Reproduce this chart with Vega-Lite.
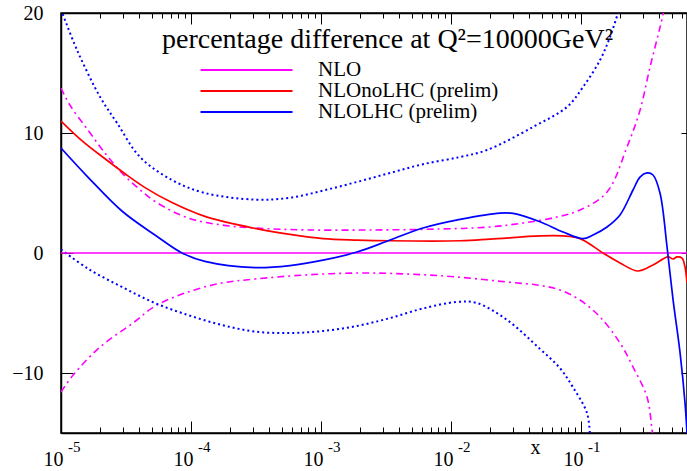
{
  "$schema": "https://vega.github.io/schema/vega-lite/v6.json",
  "width": 626,
  "height": 420,
  "autosize": "none",
  "padding": {"left": 61, "top": 13, "right": 0, "bottom": 38},
  "background": "white",
  "config": {
    "view": {"stroke": "black", "strokeWidth": 1.5},
    "font": "Liberation Serif",
    "axis": {"domainColor": "black", "domainWidth": 1.5, "tickColor": "black", "labelColor": "black", "grid": false, "labelFont": "Liberation Serif", "labelFontSize": 20, "titleFont": "Liberation Serif", "titleColor": "black"},
    "legend": {"labelFont": "Liberation Serif"}
  },
  "datasets": {
    "central": [
      {"series": "NLO", "x": 0.00001, "y": 0},
      {"series": "NLO", "x": 0.6535, "y": 0},
      {"series": "NLOnoLHC (prelim)", "x": 0.00001, "y": 11.0},
      {"series": "NLOnoLHC (prelim)", "x": 0.0000147, "y": 9.3},
      {"series": "NLOnoLHC (prelim)", "x": 0.0000218, "y": 7.85},
      {"series": "NLOnoLHC (prelim)", "x": 0.0000311, "y": 6.6},
      {"series": "NLOnoLHC (prelim)", "x": 0.0000443, "y": 5.45},
      {"series": "NLOnoLHC (prelim)", "x": 0.0000714, "y": 4.2},
      {"series": "NLOnoLHC (prelim)", "x": 0.000128, "y": 3.05},
      {"series": "NLOnoLHC (prelim)", "x": 0.000311, "y": 2.05},
      {"series": "NLOnoLHC (prelim)", "x": 0.000577, "y": 1.55},
      {"series": "NLOnoLHC (prelim)", "x": 0.001036, "y": 1.2},
      {"series": "NLOnoLHC (prelim)", "x": 0.00189, "y": 1.08},
      {"series": "NLOnoLHC (prelim)", "x": 0.0034, "y": 1.02},
      {"series": "NLOnoLHC (prelim)", "x": 0.01173, "y": 1.02},
      {"series": "NLOnoLHC (prelim)", "x": 0.01995, "y": 1.15},
      {"series": "NLOnoLHC (prelim)", "x": 0.0484, "y": 1.42},
      {"series": "NLOnoLHC (prelim)", "x": 0.0727, "y": 1.42},
      {"series": "NLOnoLHC (prelim)", "x": 0.0982, "y": 1.2},
      {"series": "NLOnoLHC (prelim)", "x": 0.1476, "y": 0.0},
      {"series": "NLOnoLHC (prelim)", "x": 0.1995, "y": -0.83},
      {"series": "NLOnoLHC (prelim)", "x": 0.2745, "y": -1.5},
      {"series": "NLOnoLHC (prelim)", "x": 0.358, "y": -1.0},
      {"series": "NLOnoLHC (prelim)", "x": 0.467, "y": -0.33},
      {"series": "NLOnoLHC (prelim)", "x": 0.511, "y": -0.5},
      {"series": "NLOnoLHC (prelim)", "x": 0.547, "y": -0.33},
      {"series": "NLOnoLHC (prelim)", "x": 0.598, "y": -0.42},
      {"series": "NLOnoLHC (prelim)", "x": 0.631, "y": -1.17},
      {"series": "NLOnoLHC (prelim)", "x": 0.6535, "y": -2.5},
      {"series": "NLOLHC (prelim)", "x": 0.00001, "y": 8.75},
      {"series": "NLOLHC (prelim)", "x": 0.0000161, "y": 6.33},
      {"series": "NLOLHC (prelim)", "x": 0.0000294, "y": 3.5},
      {"series": "NLOLHC (prelim)", "x": 0.0000528, "y": 1.5},
      {"series": "NLOLHC (prelim)", "x": 0.0000853, "y": 0.0},
      {"series": "NLOLHC (prelim)", "x": 0.000128, "y": -0.7},
      {"series": "NLOLHC (prelim)", "x": 0.000311, "y": -1.22},
      {"series": "NLOLHC (prelim)", "x": 0.000577, "y": -1.05},
      {"series": "NLOLHC (prelim)", "x": 0.001036, "y": -0.6},
      {"series": "NLOLHC (prelim)", "x": 0.00189, "y": 0.08},
      {"series": "NLOLHC (prelim)", "x": 0.0034, "y": 1.08},
      {"series": "NLOLHC (prelim)", "x": 0.00609, "y": 2.08},
      {"series": "NLOLHC (prelim)", "x": 0.01173, "y": 2.8},
      {"series": "NLOLHC (prelim)", "x": 0.0238, "y": 3.33},
      {"series": "NLOLHC (prelim)", "x": 0.03, "y": 3.3},
      {"series": "NLOLHC (prelim)", "x": 0.0484, "y": 2.6},
      {"series": "NLOLHC (prelim)", "x": 0.0727, "y": 1.75},
      {"series": "NLOLHC (prelim)", "x": 0.1036, "y": 1.2},
      {"series": "NLOLHC (prelim)", "x": 0.1237, "y": 1.5},
      {"series": "NLOLHC (prelim)", "x": 0.1585, "y": 2.17},
      {"series": "NLOLHC (prelim)", "x": 0.1995, "y": 3.17},
      {"series": "NLOLHC (prelim)", "x": 0.2512, "y": 5.25},
      {"series": "NLOLHC (prelim)", "x": 0.2843, "y": 6.33},
      {"series": "NLOLHC (prelim)", "x": 0.3218, "y": 6.67},
      {"series": "NLOLHC (prelim)", "x": 0.358, "y": 6.5},
      {"series": "NLOLHC (prelim)", "x": 0.405, "y": 5.0},
      {"series": "NLOLHC (prelim)", "x": 0.459, "y": 0.5},
      {"series": "NLOLHC (prelim)", "x": 0.511, "y": -3.92},
      {"series": "NLOLHC (prelim)", "x": 0.578, "y": -8.33},
      {"series": "NLOLHC (prelim)", "x": 0.631, "y": -12.5},
      {"series": "NLOLHC (prelim)", "x": 0.6535, "y": -15}
    ],
    "bands": [
      {"band": "NLO upper", "x": 0.00001, "y": 13.75},
      {"band": "NLO upper", "x": 0.0000117, "y": 12.33},
      {"band": "NLO upper", "x": 0.0000161, "y": 10.25},
      {"band": "NLO upper", "x": 0.0000218, "y": 8.33},
      {"band": "NLO upper", "x": 0.0000294, "y": 6.67},
      {"band": "NLO upper", "x": 0.0000391, "y": 5.42},
      {"band": "NLO upper", "x": 0.0000528, "y": 4.3},
      {"band": "NLO upper", "x": 0.0000948, "y": 2.92},
      {"band": "NLO upper", "x": 0.000173, "y": 2.33},
      {"band": "NLO upper", "x": 0.000311, "y": 2.08},
      {"band": "NLO upper", "x": 0.00078, "y": 1.92},
      {"band": "NLO upper", "x": 0.00251, "y": 1.92},
      {"band": "NLO upper", "x": 0.00823, "y": 2.0},
      {"band": "NLO upper", "x": 0.01995, "y": 2.17},
      {"band": "NLO upper", "x": 0.0358, "y": 2.5},
      {"band": "NLO upper", "x": 0.0654, "y": 3.0},
      {"band": "NLO upper", "x": 0.0982, "y": 3.58},
      {"band": "NLO upper", "x": 0.1585, "y": 5.08},
      {"band": "NLO upper", "x": 0.2258, "y": 8.83},
      {"band": "NLO upper", "x": 0.2843, "y": 11.9},
      {"band": "NLO upper", "x": 0.3396, "y": 15.5},
      {"band": "NLO upper", "x": 0.405, "y": 18.8},
      {"band": "NLO upper", "x": 0.4506, "y": 21},
      {"band": "NLO lower", "x": 0.00001, "y": -11.58},
      {"band": "NLO lower", "x": 0.0000124, "y": -10.17},
      {"band": "NLO lower", "x": 0.00002, "y": -7.83},
      {"band": "NLO lower", "x": 0.0000358, "y": -5.83},
      {"band": "NLO lower", "x": 0.0000528, "y": -4.43},
      {"band": "NLO lower", "x": 0.0000948, "y": -3.25},
      {"band": "NLO lower", "x": 0.000173, "y": -2.5},
      {"band": "NLO lower", "x": 0.000311, "y": -2.17},
      {"band": "NLO lower", "x": 0.000753, "y": -1.83},
      {"band": "NLO lower", "x": 0.00189, "y": -1.67},
      {"band": "NLO lower", "x": 0.00459, "y": -1.75},
      {"band": "NLO lower", "x": 0.01112, "y": -2.0},
      {"band": "NLO lower", "x": 0.027, "y": -2.42},
      {"band": "NLO lower", "x": 0.0484, "y": -2.7},
      {"band": "NLO lower", "x": 0.0689, "y": -3.08},
      {"band": "NLO lower", "x": 0.0982, "y": -3.92},
      {"band": "NLO lower", "x": 0.1401, "y": -5.33},
      {"band": "NLO lower", "x": 0.1995, "y": -7.5},
      {"band": "NLO lower", "x": 0.2512, "y": -9.5},
      {"band": "NLO lower", "x": 0.3218, "y": -12.0},
      {"band": "NLO lower", "x": 0.352, "y": -14.75},
      {"band": "NLO lower", "x": 0.3642, "y": -16},
      {"band": "LHC upper", "x": 0.00001, "y": 20.3},
      {"band": "LHC upper", "x": 0.0000133, "y": 16.9},
      {"band": "LHC upper", "x": 0.00002, "y": 13.0},
      {"band": "LHC upper", "x": 0.000027, "y": 10.83},
      {"band": "LHC upper", "x": 0.0000405, "y": 8.0},
      {"band": "LHC upper", "x": 0.0000714, "y": 6.08},
      {"band": "LHC upper", "x": 0.000128, "y": 5.0},
      {"band": "LHC upper", "x": 0.000311, "y": 4.45},
      {"band": "LHC upper", "x": 0.000577, "y": 4.6},
      {"band": "LHC upper", "x": 0.001036, "y": 5.2},
      {"band": "LHC upper", "x": 0.00189, "y": 5.92},
      {"band": "LHC upper", "x": 0.0034, "y": 6.67},
      {"band": "LHC upper", "x": 0.00609, "y": 7.4},
      {"band": "LHC upper", "x": 0.01173, "y": 8.0},
      {"band": "LHC upper", "x": 0.0189, "y": 8.58},
      {"band": "LHC upper", "x": 0.0427, "y": 10.5},
      {"band": "LHC upper", "x": 0.078, "y": 12.17},
      {"band": "LHC upper", "x": 0.1036, "y": 13.83},
      {"band": "LHC upper", "x": 0.1401, "y": 16.08},
      {"band": "LHC upper", "x": 0.1671, "y": 18.0},
      {"band": "LHC upper", "x": 0.1926, "y": 20.0},
      {"band": "LHC upper", "x": 0.1995, "y": 20.5},
      {"band": "LHC lower", "x": 0.00001, "y": 0.3},
      {"band": "LHC lower", "x": 0.0000161, "y": -1.3},
      {"band": "LHC lower", "x": 0.0000294, "y": -2.83},
      {"band": "LHC lower", "x": 0.0000528, "y": -4.17},
      {"band": "LHC lower", "x": 0.0000948, "y": -5.17},
      {"band": "LHC lower", "x": 0.000173, "y": -6.0},
      {"band": "LHC lower", "x": 0.000311, "y": -6.55},
      {"band": "LHC lower", "x": 0.000577, "y": -6.67},
      {"band": "LHC lower", "x": 0.001036, "y": -6.5},
      {"band": "LHC lower", "x": 0.00189, "y": -6.08},
      {"band": "LHC lower", "x": 0.0034, "y": -5.42},
      {"band": "LHC lower", "x": 0.00609, "y": -4.62},
      {"band": "LHC lower", "x": 0.01112, "y": -4.08},
      {"band": "LHC lower", "x": 0.01585, "y": -4.17},
      {"band": "LHC lower", "x": 0.027, "y": -5.58},
      {"band": "LHC lower", "x": 0.0484, "y": -8.0},
      {"band": "LHC lower", "x": 0.0689, "y": -9.6},
      {"band": "LHC lower", "x": 0.0868, "y": -11.2},
      {"band": "LHC lower", "x": 0.1112, "y": -13.33},
      {"band": "LHC lower", "x": 0.1173, "y": -15.3}
    ],
    "exponents": [
      {"v": 0.00001, "e": "-5"},
      {"v": 0.0001, "e": "-4"},
      {"v": 0.001, "e": "-3"},
      {"v": 0.01, "e": "-2"},
      {"v": 0.1, "e": "-1"}
    ],
    "heading": [
      {"x": 0.0000598, "y": 17.08, "label": "percentage difference at Q²=10000GeV²"}
    ]
  },
  "layer": [
    {
      "data": {"name": "bands"},
      "transform": [{"filter": "indexof(datum.band, 'NLO') === 0"}],
      "mark": {"type": "line", "clip": true, "color": "#ff00ff", "strokeWidth": 1.6, "strokeDash": [7, 4, 2, 4], "interpolate": "catmull-rom"},
      "encoding": {
        "x": {"field": "x", "type": "quantitative", "scale": {"type": "log", "domain": [0.00001, 0.6535], "nice": false},
          "axis": {"orient": "top", "values": [0.00001,0.00002,0.00003,0.00004,0.00005,0.00006,0.00007,0.00008,0.00009,0.0001,0.0002,0.0003,0.0004,0.0005,0.0006,0.0007,0.0008,0.0009,0.001,0.002,0.003,0.004,0.005,0.006,0.007,0.008,0.009,0.01,0.02,0.03,0.04,0.05,0.06,0.07,0.08,0.09,0.1,0.2,0.3,0.4,0.5,0.6],
            "labels": false, "title": null, "tickSize": {"condition": {"test": "abs(log(datum.value)/LN10 - round(log(datum.value)/LN10)) < 0.001", "value": -11}, "value": -5}}},
        "y": {"field": "y", "type": "quantitative", "scale": {"domain": [-15, 20], "nice": false, "zero": false},
          "axis": {"orient": "right", "values": [-10, 0, 10, 20], "labels": false, "title": null, "tickSize": -6, "domain": false}},
        "detail": {"field": "band"}
      }
    },
    {
      "data": {"name": "bands"},
      "transform": [{"filter": "indexof(datum.band, 'LHC') === 0"}],
      "mark": {"type": "line", "clip": true, "color": "#0000ff", "strokeWidth": 2, "strokeDash": [2, 3], "interpolate": "catmull-rom"},
      "encoding": {
        "x": {"field": "x", "type": "quantitative", "scale": {"type": "log", "domain": [0.00001, 0.6535], "nice": false}, "axis": null},
        "y": {"field": "y", "type": "quantitative", "scale": {"domain": [-15, 20], "nice": false, "zero": false}, "axis": null},
        "detail": {"field": "band"}
      }
    },
    {
      "data": {"name": "central"},
      "mark": {"type": "line", "clip": true, "strokeWidth": 1.7, "interpolate": "catmull-rom"},
      "encoding": {
        "x": {"field": "x", "type": "quantitative", "scale": {"type": "log", "domain": [0.00001, 0.6535], "nice": false},
          "axis": {"orient": "bottom", "values": [0.00001,0.00002,0.00003,0.00004,0.00005,0.00006,0.00007,0.00008,0.00009,0.0001,0.0002,0.0003,0.0004,0.0005,0.0006,0.0007,0.0008,0.0009,0.001,0.002,0.003,0.004,0.005,0.006,0.007,0.008,0.009,0.01,0.02,0.03,0.04,0.05,0.06,0.07,0.08,0.09,0.1,0.2,0.3,0.4,0.5,0.6],
            "labelExpr": "abs(log(datum.value)/LN10 - round(log(datum.value)/LN10)) < 0.001 ? '10' : ''",
            "labelAlign": "right", "labelOffset": 2, "labelBaseline": "alphabetic", "labelPadding": 44, "labelFlush": false, "labelOverlap": false, "labelBound": false,
            "tickSize": {"condition": {"test": "abs(log(datum.value)/LN10 - round(log(datum.value)/LN10)) < 0.001", "value": -12}, "value": -6},
            "title": "x", "titleFontSize": 20, "titleFontWeight": "normal", "titleX": 474, "titleY": 20, "titleBaseline": "alphabetic", "titleAlign": "center"}},
        "y": {"field": "y", "type": "quantitative", "scale": {"domain": [-15, 20], "nice": false, "zero": false},
          "axis": {"orient": "left", "values": [-10, 0, 10, 20], "tickSize": -12, "labelPadding": 30, "labelBaseline": "middle", "title": null, "labelOverlap": false, "labelFlush": false}},
        "color": {"field": "series", "type": "nominal",
          "scale": {"domain": ["NLO", "NLOnoLHC (prelim)", "NLOLHC (prelim)"], "range": ["#ff00ff", "#ff0000", "#0000ff"]},
          "legend": {"orient": "none", "legendX": 134, "legendY": 48, "title": null, "symbolType": "M-1,0H17.4", "symbolSize": 100, "symbolStrokeWidth": 2, "labelOffset": 102, "labelFont": "Liberation Serif", "labelFontSize": 21, "labelColor": "black", "labelLimit": 0, "rowPadding": 0, "clipHeight": 18, "padding": 0}}
      }
    },
    {
      "data": {"name": "exponents"},
      "mark": {"type": "text", "align": "left", "baseline": "alphabetic", "dx": 7, "dy": 19, "fontSize": 15, "font": "Liberation Serif", "color": "black"},
      "encoding": {
        "x": {"field": "v", "type": "quantitative", "scale": {"type": "log", "domain": [0.00001, 0.6535], "nice": false}, "axis": null},
        "y": {"datum": -15, "type": "quantitative", "scale": {"domain": [-15, 20], "nice": false, "zero": false}, "axis": null},
        "text": {"field": "e"}
      }
    },
    {
      "data": {"name": "heading"},
      "mark": {"type": "text", "align": "left", "baseline": "alphabetic", "fontSize": 28, "font": "Liberation Serif", "color": "black"},
      "encoding": {
        "x": {"field": "x", "type": "quantitative", "scale": {"type": "log", "domain": [0.00001, 0.6535], "nice": false}, "axis": null},
        "y": {"field": "y", "type": "quantitative", "scale": {"domain": [-15, 20], "nice": false, "zero": false}, "axis": null},
        "text": {"field": "label"}
      }
    }
  ],
  "resolve": {"axis": {"x": "independent", "y": "independent"}}
}
